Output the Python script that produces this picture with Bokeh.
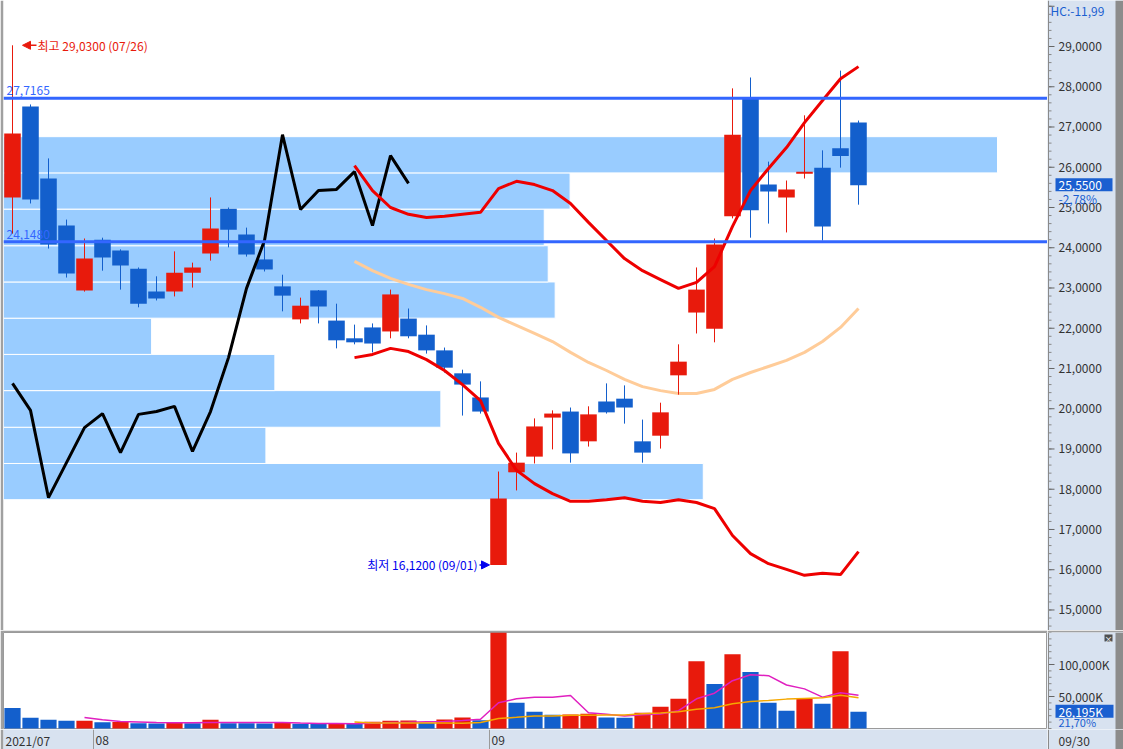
import numpy as np
from bokeh.plotting import figure
from bokeh.layouts import column, row
from bokeh.models import FixedTicker, Range1d, Grid, Arrow, NormalHead, Span
from bokeh.embed import file_html
from bokeh.resources import INLINE
from bokeh.core.properties import value

# ---------------- data ----------------
year = 2021
dates = ["07/26", "07/27", "07/28", "07/29", "07/30",
         "08/02", "08/03", "08/04", "08/05", "08/06", "08/09", "08/10", "08/11", "08/12", "08/13",
         "08/16", "08/17", "08/18", "08/19", "08/20", "08/23", "08/24", "08/25", "08/26", "08/27",
         "08/30", "08/31",
         "09/01", "09/02", "09/03", "09/07", "09/08", "09/09", "09/10", "09/13", "09/14", "09/15",
         "09/16", "09/17", "09/20", "09/21", "09/22", "09/23", "09/24", "09/27", "09/28", "09/29",
         "09/30"]
opens = [25.25, 27.51, 25.72, 24.55, 22.94, 24.20, 23.93, 23.48, 22.91, 22.91, 23.38, 23.86,
         24.97, 24.33, 23.71, 23.04, 22.22, 22.94, 22.19, 21.75, 22.02, 21.92, 22.24, 21.84,
         21.45, 20.88, 20.28, 16.12, 18.42, 18.81, 19.78, 19.93, 19.19, 20.18, 20.25, 19.19,
         19.33, 20.83, 22.39, 21.99, 24.78, 27.71, 25.57, 25.25, 25.84, 25.99, 26.47, 27.11]
highs = [29.03, 27.56, 26.22, 24.70, 24.23, 24.25, 23.96, 23.51, 23.29, 23.91, 23.63, 25.25,
         25.00, 24.50, 24.11, 23.33, 22.76, 22.95, 22.61, 22.09, 22.12, 22.96, 22.49, 22.07,
         21.52, 20.97, 20.68, 18.44, 18.91, 19.76, 19.96, 20.03, 20.06, 20.63, 20.58, 19.73,
         20.15, 21.60, 23.51, 24.23, 27.96, 28.23, 26.14, 25.67, 27.29, 26.42, 28.40, 27.16]
lows = [24.35, 25.10, 23.98, 23.26, 22.91, 23.43, 22.96, 22.52, 22.69, 22.79, 23.01, 23.68,
        24.01, 23.78, 23.41, 22.42, 22.12, 22.12, 21.50, 21.60, 21.40, 21.75, 21.75, 21.37,
        20.90, 19.83, 19.88, 16.12, 17.97, 18.64, 18.99, 18.66, 19.06, 19.88, 19.63, 18.66,
        19.01, 20.35, 21.87, 21.65, 24.73, 24.25, 24.60, 24.38, 25.72, 24.18, 25.99, 25.07]
closes = [26.84, 25.20, 24.08, 23.36, 23.73, 23.76, 23.56, 22.61, 22.74, 23.38, 23.51, 24.48,
          24.45, 23.83, 23.46, 22.81, 22.56, 22.54, 21.70, 21.65, 21.62, 22.84, 21.80, 21.45,
          21.02, 20.60, 19.93, 17.77, 18.66, 19.56, 19.88, 18.89, 19.86, 19.91, 20.03, 18.91,
          19.91, 21.17, 22.96, 24.08, 26.81, 24.93, 25.40, 25.45, 25.89, 24.53, 26.28, 25.55]
volumes_k = [32100, 16800, 13800, 12200, 12300, 9700, 10200, 8200, 8000, 8700, 8200, 13800,
             8200, 8100, 8000, 8700, 7600, 7200, 7300, 7100, 10500, 12200, 12400, 8700,
             13900, 17000, 12900, 150500, 40200, 26300, 21600, 21700, 23200, 17000, 16900, 24700,
             34000, 46400, 105200, 69600, 116000, 88100, 40200, 27800, 46400, 38700, 120700, 26195]

bb_start = 19
bb_upper = [26.04, 25.42, 25.00, 24.83, 24.75, 24.78, 24.83, 24.88, 25.47, 25.65, 25.57, 25.42,
            25.10, 24.63, 24.18, 23.73, 23.43, 23.21, 22.99, 23.14, 23.53, 24.53, 25.42, 25.97,
            26.49, 27.11, 27.66, 28.20, 28.50]
bb_mid = [23.66, 23.43, 23.24, 23.09, 22.96, 22.86, 22.74, 22.52, 22.27, 22.07, 21.87, 21.67,
          21.40, 21.15, 20.95, 20.73, 20.55, 20.45, 20.38, 20.38, 20.48, 20.73, 20.90, 21.05,
          21.20, 21.40, 21.67, 22.02, 22.49]
bb_lower = [21.27, 21.35, 21.50, 21.42, 21.22, 20.95, 20.60, 20.20, 19.14, 18.47, 18.14, 17.89,
            17.70, 17.70, 17.74, 17.79, 17.70, 17.67, 17.74, 17.67, 17.52, 16.85, 16.40, 16.15,
            16.01, 15.86, 15.91, 15.88, 16.45]
black_line = [20.63, 19.96, 17.79, 18.66, 19.53, 19.88, 18.91, 19.86, 19.93, 20.06, 18.94, 19.93,
              21.27, 22.99, 24.18, 26.81, 24.95, 25.42, 25.45, 25.89, 24.55, 26.29, 25.60]

vol_ma5_start = 4
vol_ma5 = [17300, 13800, 11000, 10200, 9400, 9000, 8800, 9400, 9400, 9400, 9300, 9300, 8400,
           7900, 7700, 7500, 8200, 9300, 9700, 10400, 10800, 12400, 14400, 40200, 46400, 49000,
           49000, 51500, 24700, 22200, 19600, 21600, 22700, 27800, 46400, 55200, 74700, 84000,
           82500, 68000, 61900, 49000, 55700, 52100]
vol_ma20_start = 19
vol_ma20 = [10200, 8700, 8700, 8700, 8700, 8700, 8250, 9300, 15500, 17500, 19600, 19600, 20600,
            20600, 21100, 21100, 23200, 24200, 26300, 29900, 32500, 38700, 42300, 43800, 45900,
            46900, 47900, 52100, 47900]

profile_edges = [17.74, 18.64, 19.54, 20.45, 21.35, 22.25, 23.15, 24.05, 24.96, 25.86, 26.76]
profile_share = [70.4, 26.4, 44.0, 27.3, 14.9, 55.5, 54.8, 54.4, 57.0, 100.0]
levels = [27.7165, 24.148]
price_ticks = list(range(15, 30))
price_grid = list(range(15, 31))
vol_ticks = [50000, 100000]

# ---------------- style ----------------
RED = "#e81a0c"
BLUE = "#135fcc"
BAND = "#99ccff"
LEVEL = "#3366ff"
GRID = "#d3d3d3"
AXBG = "#d8e2f0"
EDGE = "#a0a0a0"
BOX = "#1a5fd0"
TXT = "#333333"
FONT = "Noto Sans CJK KR"
FS = "12px"

n = len(dates)
idx = np.arange(n)
X0, X1 = -0.5, 57.5
FW, PH, VH, DH, SW = 1044, 630, 97, 20, 76
PY0, PY1 = 14.49, 30.143
VY0, VY1 = -1562, 150000
PROF_END = 105.03

def dx(px):
    return px * (X1 - X0) / FW

def dpy(px):
    return px * (PY1 - PY0) / PH

def dvy(px):
    return px * (VY1 - VY0) / VH

def pfmt(v):
    return f"{v:.4f}".replace(".", ",")

def pct(v):
    return f"{v:.2f}".replace(".", ",")

o = np.array(opens); c = np.array(closes); h = np.array(highs); l = np.array(lows)
ccol = [RED if cc >= oo else BLUE for oo, cc in zip(o, c)]
vcol = [BLUE] + [RED if volumes_k[i] >= volumes_k[i - 1] else BLUE for i in range(1, n)]
month_bounds = [i - 0.5 for i in range(1, n) if dates[i][:2] != dates[i - 1][:2]]

common = dict(toolbar_location=None, output_backend="svg", x_axis_location=None,
              y_axis_location=None, min_border_top=0, min_border_bottom=0,
              min_border_right=0)

# ---------------- price panel ----------------
p = figure(frame_width=FW, frame_height=PH, x_range=Range1d(X0, X1), y_range=Range1d(PY0, PY1),
           min_border_left=3, background_fill_color="white", border_fill_color=EDGE,
           outline_line_color=None, **common)
p.add_layout(Grid(dimension=1, ticker=FixedTicker(ticks=price_grid), grid_line_color=GRID))
p.add_layout(Grid(dimension=0, ticker=FixedTicker(ticks=month_bounds), grid_line_color=GRID))

p.extra_x_ranges = {"prof": Range1d(0, PROF_END)}
p.quad(left=0, right=profile_share, bottom=profile_edges[:-1], top=profile_edges[1:],
       x_range_name="prof", fill_color=BAND, line_color="white", line_width=1)

p.line(idx[bb_start:], bb_mid, line_color="#ffcc99", line_width=3)

p.segment(x0=idx, y0=l, x1=idx, y1=h, line_color=ccol, line_width=1)
p.vbar(x=idx, width=0.92, top=np.maximum(o, c), bottom=np.minimum(o, c),
       fill_color=ccol, line_color=None)

p.line(idx[:len(black_line)], black_line, line_color="black", line_width=3)
p.line(idx[bb_start:], bb_upper, line_color="#ee0000", line_width=3)
p.line(idx[bb_start:], bb_lower, line_color="#ee0000", line_width=3)

for lv in levels:
    p.add_layout(Span(location=lv, dimension="width", line_color=LEVEL, line_width=3))
p.text(x=[X0] * len(levels), y=levels, text=[pfmt(lv) for lv in levels], x_offset=3, y_offset=-3,
       text_baseline="bottom", text_align="left", text_color=LEVEL,
       text_font=value(FONT), text_font_size=FS)

imax = int(np.argmax(h)); imin = int(np.argmin(l))
hi = h[imax]; lo = l[imin]
p.add_layout(Arrow(end=NormalHead(size=8, fill_color=RED, line_color=RED),
                   x_start=imax + dx(24), y_start=hi, x_end=imax + dx(10), y_end=hi,
                   line_color=RED, line_width=1.5))
p.text(x=[imax], y=[hi], text=[f"최고 {pfmt(hi)} ({dates[imax]})"], x_offset=25,
       text_baseline="middle", text_align="left", text_color=RED,
       text_font=value(FONT), text_font_size=FS)
p.add_layout(Arrow(end=NormalHead(size=8, fill_color="#0000ee", line_color="#0000ee"),
                   x_start=imin - dx(19), y_start=lo, x_end=imin - dx(9), y_end=lo,
                   line_color="#0000ee", line_width=1.5))
p.text(x=[imin], y=[lo], text=[f"최저 {pfmt(lo)} ({dates[imin]})"], x_offset=-21,
       text_baseline="middle", text_align="right", text_color="#0000ee",
       text_font=value(FONT), text_font_size=FS)

# ---------------- price axis column ----------------
ps = figure(frame_width=SW, frame_height=PH, x_range=Range1d(0, SW), y_range=p.y_range,
            min_border_left=0, background_fill_color=AXBG, border_fill_color=AXBG,
            outline_line_color=None, **common)
minor_p = [round(14.6 + 0.2 * k, 2) for k in range(0, 79)]
ps.segment(x0=1, x1=4, y0=minor_p, y1=minor_p, line_color="#888888", line_width=1)
ps.segment(x0=1, x1=7, y0=price_grid, y1=price_grid, line_color="#666666", line_width=1)
ps.text(x=11, y=price_ticks, text=[pfmt(t) for t in price_ticks], text_baseline="middle",
        text_color=TXT, text_font=value(FONT), text_font_size=FS)
ps.add_layout(Span(location=1, dimension="height", line_color="#8a8a8a", line_width=1))
ps.quad(left=SW - 8, right=SW, bottom=PY0, top=PY1, fill_color="#8c8c8c", line_color=None)

last = c[-1]
chg = (c[-1] - c[-2]) / c[-2] * 100
hc = (c[-1] - hi) / hi * 100
ps.quad(left=8, right=65, bottom=last - dpy(6), top=last + dpy(7), fill_color=BOX, line_color=None)
ps.text(x=11, y=last, text=[pfmt(last)], text_baseline="middle", text_color="white",
        text_font=value(FONT), text_font_size=FS)
ps.text(x=11, y=last - dpy(13), text=[pct(chg) + "%"], text_baseline="middle", text_color=BOX,
        text_font=value(FONT), text_font_size=FS)
ps.text(x=3, y=PY1 - dpy(10), text=["HC:" + pct(hc)], text_baseline="middle", text_color=BOX,
        text_font=value(FONT), text_font_size=FS)

# ---------------- volume panel ----------------
v = figure(frame_width=FW, frame_height=VH, x_range=p.x_range, y_range=Range1d(VY0, VY1),
           min_border_left=3, background_fill_color="white", border_fill_color=EDGE,
           outline_line_color="#9a9a9a", **dict(common, min_border_top=2))
v.add_layout(Grid(dimension=1, ticker=FixedTicker(ticks=vol_ticks + [VY1]), grid_line_color=GRID))
v.add_layout(Grid(dimension=0, ticker=FixedTicker(ticks=month_bounds), grid_line_color=GRID))
v.vbar(x=idx, width=0.9, top=volumes_k, bottom=0, fill_color=vcol, line_color=None)
v.line(idx[vol_ma5_start:], vol_ma5, line_color="#e020c0", line_width=1.5)
v.line(idx[vol_ma20_start:], vol_ma20, line_color="#f5a800", line_width=1.5)

vs = figure(frame_width=SW, frame_height=VH, x_range=Range1d(0, SW), y_range=v.y_range,
            min_border_left=0, background_fill_color=AXBG, border_fill_color=EDGE,
            outline_line_color=None, **dict(common, min_border_top=2))
minor_v = list(range(0, 150001, 10000))
vs.segment(x0=1, x1=4, y0=minor_v, y1=minor_v, line_color="#888888", line_width=1)
vs.segment(x0=1, x1=7, y0=vol_ticks, y1=vol_ticks, line_color="#666666", line_width=1)
vs.text(x=11, y=vol_ticks, text=[f"{t:,}K" for t in vol_ticks], text_baseline="middle",
        text_color=TXT, text_font=value(FONT), text_font_size=FS)
vs.add_layout(Span(location=1, dimension="height", line_color="#8a8a8a", line_width=1))
vs.quad(left=SW - 8, right=SW, bottom=VY0, top=VY1, fill_color="#8c8c8c", line_color=None)
vs.quad(left=57, right=65, bottom=VY1 - dvy(9), top=VY1 - dvy(2), fill_color="#505050",
        line_color=None)
vs.text(x=61, y=VY1 - dvy(5.5), text=["×"], text_align="center", text_baseline="middle",
        text_color="white", text_font=value(FONT), text_font_size="8px")
lastv = volumes_k[-1]
vr = lastv / volumes_k[-2] * 100
vs.quad(left=8, right=66, bottom=lastv - dvy(6), top=lastv + dvy(7), fill_color=BOX,
        line_color=None)
vs.text(x=11, y=lastv, text=[f"{lastv:,}K"], text_baseline="middle", text_color="white",
        text_font=value(FONT), text_font_size=FS)
vs.text(x=11, y=lastv - dvy(10), text=[pct(vr) + "%"], text_baseline="middle", text_color=BOX,
        text_font=value(FONT), text_font_size="11px")

# ---------------- date row ----------------
dt = figure(frame_width=FW, frame_height=DH, x_range=p.x_range, y_range=Range1d(0, 1),
            min_border_left=3, background_fill_color=AXBG, border_fill_color=EDGE,
            outline_line_color=None, **common)
dt.segment(x0=month_bounds, x1=month_bounds, y0=0, y1=1, line_color="#9a9a9a", line_width=1)
date_x = [X0] + month_bounds
date_t = [f"{year}/{dates[0][:2]}"] + [dates[int(b + 0.5)][:2] for b in month_bounds]
dt.text(x=date_x, y=0.45, text=date_t, x_offset=2, text_baseline="middle", text_color=TXT,
        text_font=value(FONT), text_font_size=FS)

dts = figure(frame_width=SW, frame_height=DH, x_range=Range1d(0, SW), y_range=Range1d(0, 1),
             min_border_left=0, background_fill_color=AXBG, border_fill_color=AXBG,
             outline_line_color=None, **common)
dts.add_layout(Span(location=1, dimension="height", line_color="#8a8a8a", line_width=1))
dts.quad(left=SW - 8, right=SW, bottom=0, top=1, fill_color="#8c8c8c", line_color=None)
dts.text(x=11, y=0.45, text=[dates[-1]], text_baseline="middle", text_color=TXT,
         text_font=value(FONT), text_font_size=FS)

for f in (p, ps, v, vs, dt, dts):
    f.xgrid.visible = False
    f.ygrid.visible = False

layout = column(row(p, ps, spacing=0), row(v, vs, spacing=0), row(dt, dts, spacing=0), spacing=0)
open("out.html", "w").write(file_html(layout, INLINE))
